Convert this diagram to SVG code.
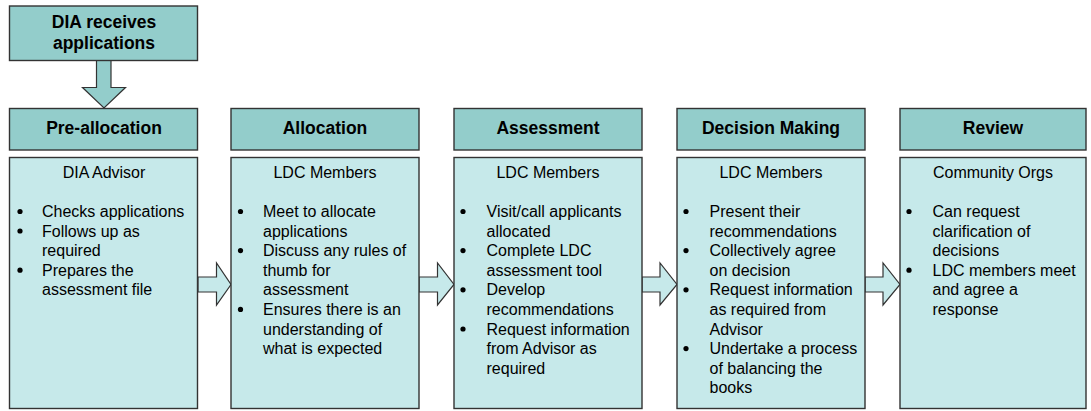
<svg xmlns="http://www.w3.org/2000/svg" width="1091" height="411" viewBox="0 0 1091 411">
<defs>
<style>
.hdr{fill:#93CDCB;stroke:#333;stroke-width:1.4}
.body{fill:#C6E9EA;stroke:#333;stroke-width:1.4}
.arr{fill:#C6E9EA;stroke:#333;stroke-width:1.2;stroke-linejoin:miter}
.darr{fill:#93CDCB;stroke:#333;stroke-width:1.2}
.ht{font-family:"Liberation Sans",Arial,sans-serif;font-weight:bold;font-size:17.5px;fill:#000;text-anchor:middle}
.t{font-family:"Liberation Sans",Arial,sans-serif;font-size:16px;fill:#000}
.c{text-anchor:middle}
circle{fill:#000}
</style>
</defs>
<g id="connectors">
<path class="darr" d="M96.5,60.5 V87.5 H82.5 L104,108 L125.5,87.5 H111 V60.5 Z"/>
<path class="arr" d="M198,277 H216.5 V263 L231,284.5 L216.5,305 V292 H198 Z"/>
<path class="arr" d="M419,277 H437.5 V263 L454,284.5 L437.5,305 V292 H419 Z"/>
<path class="arr" d="M642,277 H660 V263 L677,284.5 L660,305 V292 H642 Z"/>
<path class="arr" d="M865,277 H883 V263 L900,284.5 L883,305 V292 H865 Z"/>
</g>
<g id="start">
<rect class="hdr" x="9.5" y="6" width="188" height="54.5"/>
<text class="ht" x="104" y="27.5">DIA receives</text>
<text class="ht" x="104" y="49">applications</text>
</g>
<g id="pre-allocation">
<rect class="hdr" x="9.5" y="108.5" width="188" height="41.5"/>
<text class="ht" x="104" y="134">Pre-allocation</text>
<rect class="body" x="9.5" y="157.5" width="188" height="251"/>
<text class="t c" x="104" y="178">DIA Advisor</text>
<g class="t">
<circle cx="20" cy="211.5" r="2.6"/><text x="42" y="217">Checks applications</text>
<circle cx="20" cy="231" r="2.6"/><text x="42" y="236.6">Follows up as</text>
<text x="42" y="256.2">required</text>
<circle cx="20" cy="270.2" r="2.6"/><text x="42" y="275.8">Prepares the</text>
<text x="42" y="295.4">assessment file</text>
</g>
</g>
<g id="allocation">
<rect class="hdr" x="231" y="108.5" width="188" height="41.5"/>
<text class="ht" x="325" y="134">Allocation</text>
<rect class="body" x="231" y="157.5" width="188" height="251"/>
<text class="t c" x="325" y="178">LDC Members</text>
<g class="t">
<circle cx="240.5" cy="211.5" r="2.6"/><text x="263" y="217">Meet to allocate</text>
<text x="263" y="236.6">applications</text>
<circle cx="240.5" cy="250.6" r="2.6"/><text x="263" y="256.2">Discuss any rules of</text>
<text x="263" y="275.8">thumb for</text>
<text x="263" y="295.4">assessment</text>
<circle cx="240.5" cy="309.4" r="2.6"/><text x="263" y="315">Ensures there is an</text>
<text x="263" y="334.6">understanding of</text>
<text x="263" y="354.2">what is expected</text>
</g>
</g>
<g id="assessment">
<rect class="hdr" x="454" y="108.5" width="188" height="41.5"/>
<text class="ht" x="548" y="134">Assessment</text>
<rect class="body" x="454" y="157.5" width="188" height="251"/>
<text class="t c" x="548" y="178">LDC Members</text>
<g class="t">
<circle cx="463" cy="211.5" r="2.6"/><text x="486.5" y="217">Visit/call applicants</text>
<text x="486.5" y="236.6">allocated</text>
<circle cx="463" cy="250.6" r="2.6"/><text x="486.5" y="256.2">Complete LDC</text>
<text x="486.5" y="275.8">assessment tool</text>
<circle cx="463" cy="289.8" r="2.6"/><text x="486.5" y="295.4">Develop</text>
<text x="486.5" y="315">recommendations</text>
<circle cx="463" cy="329" r="2.6"/><text x="486.5" y="334.6">Request information</text>
<text x="486.5" y="354.2">from Advisor as</text>
<text x="486.5" y="373.8">required</text>
</g>
</g>
<g id="decision-making">
<rect class="hdr" x="677" y="108.5" width="188" height="41.5"/>
<text class="ht" x="771" y="134">Decision Making</text>
<rect class="body" x="677" y="157.5" width="188" height="251"/>
<text class="t c" x="771" y="178">LDC Members</text>
<g class="t">
<circle cx="686" cy="211.5" r="2.6"/><text x="709.5" y="217">Present their</text>
<text x="709.5" y="236.6">recommendations</text>
<circle cx="686" cy="250.6" r="2.6"/><text x="709.5" y="256.2">Collectively agree</text>
<text x="709.5" y="275.8">on decision</text>
<circle cx="686" cy="289.8" r="2.6"/><text x="709.5" y="295.4">Request information</text>
<text x="709.5" y="315">as required from</text>
<text x="709.5" y="334.6">Advisor</text>
<circle cx="686" cy="348.6" r="2.6"/><text x="709.5" y="354.2">Undertake a process</text>
<text x="709.5" y="373.8">of balancing the</text>
<text x="709.5" y="393.4">books</text>
</g>
</g>
<g id="review">
<rect class="hdr" x="900" y="108.5" width="186" height="41.5"/>
<text class="ht" x="993" y="134">Review</text>
<rect class="body" x="900" y="157.5" width="186" height="251"/>
<text class="t c" x="993" y="178">Community Orgs</text>
<g class="t">
<circle cx="909" cy="211.5" r="2.6"/><text x="932.5" y="217">Can request</text>
<text x="932.5" y="236.6">clarification of</text>
<text x="932.5" y="256.2">decisions</text>
<circle cx="909" cy="270.2" r="2.6"/><text x="932.5" y="275.8">LDC members meet</text>
<text x="932.5" y="295.4">and agree a</text>
<text x="932.5" y="315">response</text>
</g>
</g>
</svg>
